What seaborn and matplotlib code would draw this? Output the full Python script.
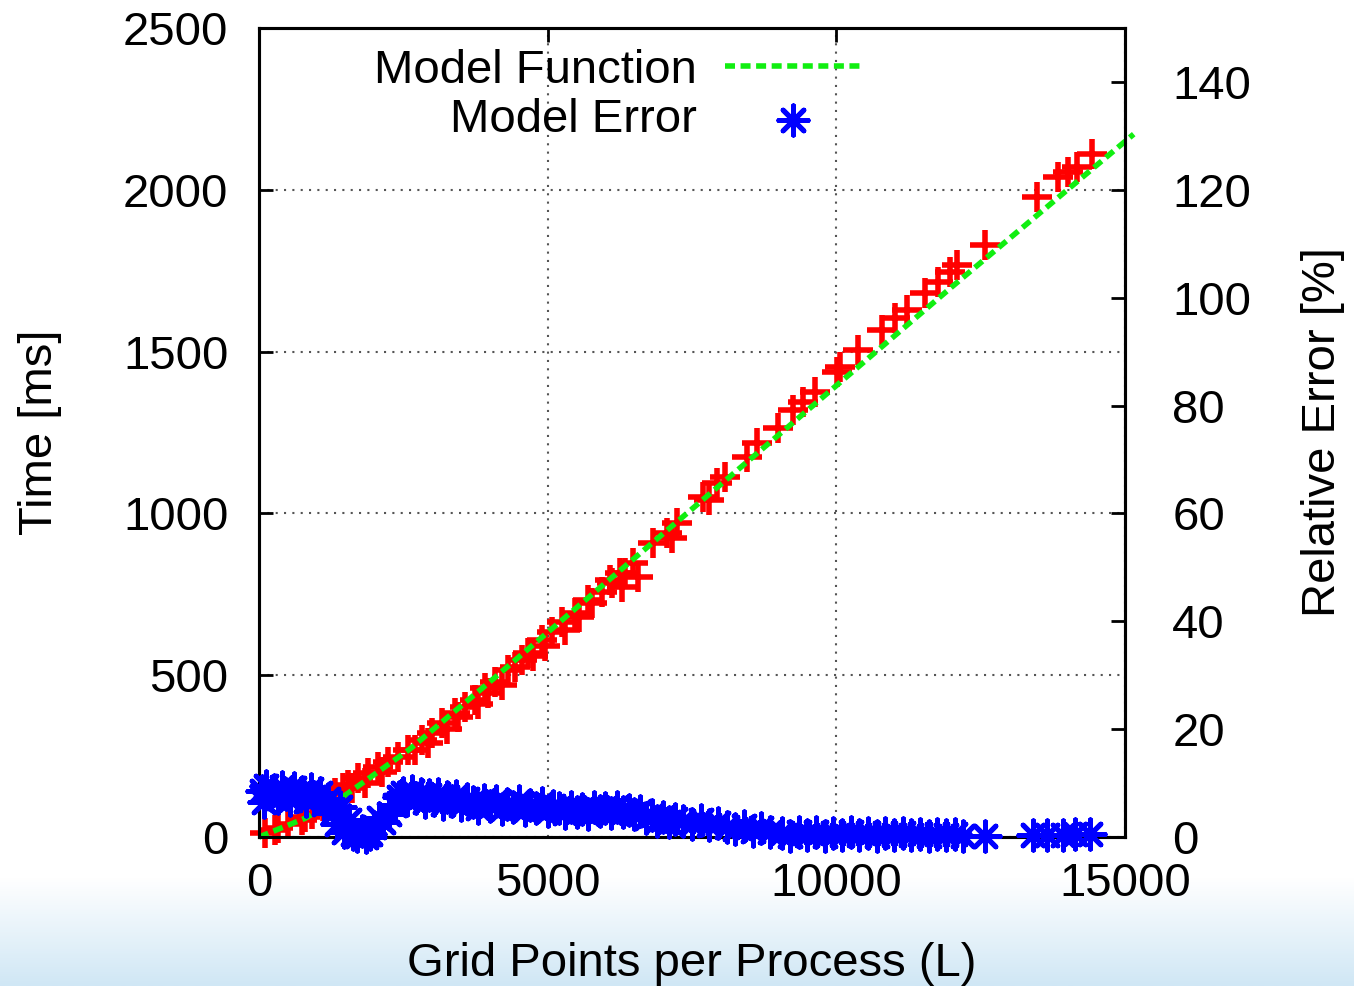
import numpy as np
import pandas as pd
import seaborn as sns
import matplotlib
matplotlib.use("Agg")
from matplotlib import pyplot as plt
from matplotlib.colors import LinearSegmentedColormap

L_meas = [105, 280, 330, 500, 745, 795, 920, 1100, 1315, 1450, 1540, 1610, 1715, 1835,
          1890, 2060, 2130, 2235, 2405, 2580, 2700, 2825, 2930, 3000, 3170, 3250, 3395,
          3450, 3570, 3740, 3800, 3915, 3965, 4090, 4200, 4310, 4435, 4555, 4660, 4750,
          4900, 4950, 5075, 5250, 5300, 5475, 5550, 5700, 5770, 5940, 6080, 6115, 6250,
          6290, 6340, 6480, 6565, 6825, 7065, 7150, 7240, 7690, 7800, 7930, 8070, 8450,
          8625, 8990, 9250, 9425, 9630, 10010, 10065, 10375, 10790, 11015, 11220, 11535,
          11760, 11970, 12090, 12575, 13475, 13840, 14010, 14165, 14425]
t_meas = [12, 22, 28, 40, 53, 62, 70, 95, 136, 150, 161, 150, 182, 167,
          198, 216, 200, 232, 247, 269, 268, 300, 292, 321, 352, 335, 383,
          371, 402, 423, 410, 460, 445, 479, 470, 516, 525, 547, 569, 560,
          609, 590, 633, 664, 640, 692, 680, 732, 723, 757, 794, 785, 816,
          773, 816, 847, 803, 908, 939, 925, 970, 1051, 1040, 1094, 1112, 1174,
          1217, 1264, 1319, 1344, 1375, 1437, 1452, 1505, 1567, 1604, 1628, 1681,
          1715, 1746, 1767, 1829, 1978, 2039, 2055, 2070, 2110]

# model function (green dashed)
L_model = [0, 800, 1500, 2600, 4000, 6000, 8000, 10000, 12000, 15150]
t_model = [0, 58, 130, 270, 480, 785, 1090, 1395, 1700, 2172]

# relative model error in % (blue stars, right axis)
L_err = [50, 80, 120, 200, 260, 330, 400, 470, 540, 600, 680, 750, 820, 900, 960, 1050,
         1120, 1200, 1280, 1350, 1400, 1480, 1550, 1620, 1700, 1780, 1850, 1920, 2000,
         2080, 2150, 2250, 2350, 2420, 2500, 2560, 2650, 2720, 2800, 2880, 2950, 3030,
         3100, 3180, 3260, 3340, 3420, 3500, 3600, 3700, 3800, 3900, 4000, 4100, 4200,
         4300, 4400, 4500, 4600, 4700, 4800, 4900, 5000, 5100, 5200, 5300, 5400, 5500,
         5600, 5700, 5800, 5900, 6000, 6100, 6200, 6300, 6400, 6500, 6600, 6700, 6800,
         6900, 7000, 7100, 7200, 7350, 7500, 7650, 7800, 7950, 8100, 8250, 8400, 8550,
         8700, 8850, 9050, 9200, 9350, 9500, 9650, 9800, 9950, 10100, 10250, 10400,
         10550, 10700, 10850, 11000, 11150, 11300, 11450, 11600, 11750, 11900, 12050,
         12200, 12575, 13405, 13650, 13925, 14135, 14390]
err_pct = [8.5, 6.5, 9.5, 7.8, 8.8, 7.2, 9.2, 8.0, 6.8, 9.0, 7.6, 8.4, 6.6, 8.9, 7.4, 8.2,
           6.2, 7.0, 4.5, 2.5, 5.5, 1.0, 3.2, 0.5, 0.2, 1.2, 0.0, 0.6, 1.8,
           3.5, 2.8, 4.2, 6.0, 7.5, 8.2, 6.8, 8.6, 7.2, 8.0, 6.4, 7.7, 6.9,
           7.9, 6.2, 7.4, 6.6, 7.6, 6.0, 7.0, 6.4, 5.4, 6.9, 5.8, 6.6, 5.2,
           6.2, 5.6, 6.7, 5.0, 6.0, 5.4, 6.3, 4.8, 5.8, 5.4, 4.4, 5.6, 4.6,
           5.2, 4.2, 5.5, 4.8, 5.3, 4.5, 5.6, 4.7, 5.1, 4.2, 4.8, 3.6, 4.0,
           3.0, 3.8, 2.8, 3.4, 3.0, 2.4, 3.2, 2.2, 2.6, 1.8, 1.4, 2.0, 1.2,
           1.6, 1.0, 0.8, 0.2, 1.0, 0.4, 0.9, 0.1, 0.7, 0.3, 0.9, 0.4,
           0.8, 0.2, 0.7, 0.3, 0.8, 0.4, 0.6, 0.1, 0.6, 0.3, 0.5,
           0.2, 0.2, 0.3, 0.3, 0.4, 0.5, 0.6]

x_ticks = [0, 5000, 10000, 15000]
t_ticks = [0, 500, 1000, 1500, 2000, 2500]
err_ticks = [0, 20, 40, 60, 80, 100, 120, 140]

df_meas = pd.DataFrame({'L': L_meas, 't': t_meas})
df_model = pd.DataFrame({'L': L_model, 't': t_model})
df_err = pd.DataFrame({'L': L_err, 'err': err_pct})

sns.set_theme(style='white')
plt.rcParams['font.family'] = ['Liberation Sans', 'DejaVu Sans']
plt.rcParams['text.color'] = 'black'
plt.rcParams['axes.labelcolor'] = 'black'
plt.rcParams['xtick.color'] = 'black'
plt.rcParams['ytick.color'] = 'black'
fs = 34

fig = plt.figure(figsize=(13.54, 9.86), dpi=100)
fig.patch.set_facecolor('white')

# light blue slide gradient at the bottom
bg = fig.add_axes([0, 0, 1, 0.11], zorder=-5)
grad = np.linspace(0, 1, 100).reshape(-1, 1)
bg.imshow(grad, aspect='auto', cmap=LinearSegmentedColormap.from_list('bg', ['#d0e7f5', '#ffffff']),
          origin='lower', extent=[0, 1, 0, 1])
bg.axis('off')

ax = fig.add_axes([0.1913, 0.1511, 0.6396, 0.8205])
ax.set_facecolor('white')

sns.scatterplot(data=df_meas, x='L', y='t', marker='+', color='#ff0000', s=440,
                linewidth=4.0, ax=ax, clip_on=False, zorder=3, legend=False)
sns.lineplot(data=df_model, x='L', y='t', color='#11ee11', linewidth=4.0,
             linestyle=(0, (1.8, 1.0)), ax=ax, clip_on=False, zorder=4, legend=False)

ax.set_xlim(0, 15000)
ax.set_ylim(0, 2500)
ax.set_xticks(x_ticks)
ax.set_yticks(t_ticks)
ax.set_xlabel('Grid Points per Process (L)', fontsize=fs, labelpad=26)
ax.set_ylabel('Time [ms]', fontsize=fs, labelpad=44)
ax.tick_params(axis='both', direction='in', length=10, width=2, labelsize=fs)
ax.tick_params(axis='x', top=True, pad=18)
ax.tick_params(axis='y', pad=22)
ax.grid(True, linestyle=(0, (1, 3)), color='#555555', linewidth=1.5)
for sp in ax.spines.values():
    sp.set_color('black')
    sp.set_linewidth(2.2)

ax2 = ax.twinx()
sns.scatterplot(data=df_err, x='L', y='err', marker=(8, 2, 0), color='#0000ff', s=440,
                linewidth=3.6, ax=ax2, clip_on=False, zorder=3, legend=False)
ax2.set_ylim(0, 150)
ax2.set_yticks(err_ticks)
ax2.set_ylabel('Relative Error [%]', fontsize=fs, labelpad=36)
ax2.tick_params(axis='y', direction='in', length=10, width=2, labelsize=fs, pad=34)
ax2.grid(False)
for sp in ax2.spines.values():
    sp.set_color('black')
    sp.set_linewidth(2.2)

h_line = ax.lines[-1]
h_star = ax2.collections[-1]
leg_kw = dict(loc='center right', frameon=False, markerfirst=False, handlelength=2.85,
              handletextpad=0.6, borderpad=0, borderaxespad=0, fontsize=fs)
leg1 = ax2.legend([h_line], ['Model Function'], bbox_to_anchor=(0.694, 0.947), **leg_kw)
ax2.add_artist(leg1)
ax2.legend([h_star], ['Model Error'], bbox_to_anchor=(0.694, 0.886), **leg_kw)

fig.savefig('out.png', dpi=100)
